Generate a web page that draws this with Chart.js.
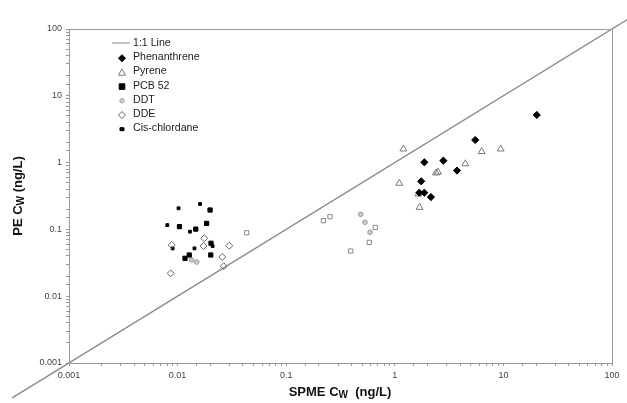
<!DOCTYPE html>
<html>
<head>
<meta charset="utf-8">
<script src="https://cdn.jsdelivr.net/npm/chart.js@4.4.1/dist/chart.umd.min.js"></script>
<style>
  html, body { margin: 0; padding: 0; background: #fff; }
  #wrap { width: 627px; height: 403px; }
</style>
</head>
<body>
<div id="wrap"><canvas id="pe_chart" width="627" height="403"></canvas></div>
<script>
// values (SPME Cw, PE Cw in ng/L)
var phenX = [20.3, 5.5, 1.87, 2.8, 3.74, 1.75, 1.68, 1.87, 2.15];
var phenY = [5.16, 2.18, 1.01, 1.07, 0.76, 0.525, 0.354, 0.354, 0.305];

var pyreneX = [1.2, 6.31, 9.44, 4.46, 2.4, 2.5, 1.1, 1.65, 1.69];
var pyreneY = [1.6, 1.46, 1.6, 0.96, 0.7, 0.72, 0.49, 0.339, 0.214];

var pcbX = [0.0104, 0.0185, 0.0199, 0.0147, 0.0203, 0.0202, 0.0128, 0.0117];
var pcbY = [0.110, 0.123, 0.195, 0.101, 0.062, 0.0414, 0.0414, 0.0369];

var ddtX = [0.485, 0.532, 0.591, 0.0135, 0.0150];
var ddtY = [0.168, 0.128, 0.0905, 0.0348, 0.0325];

var ddeX = [0.00883, 0.0176, 0.0173, 0.0299, 0.0258, 0.0266, 0.00864];
var ddeY = [0.0584, 0.0736, 0.0564, 0.057, 0.0386, 0.0281, 0.022];

var chlordX = [0.0102, 0.0161, 0.00804, 0.0130, 0.0143, 0.0090, 0.021];
var chlordY = [0.207, 0.240, 0.116, 0.0925, 0.052, 0.052, 0.0564];

// open squares in the plot that have no legend entry
var otherX = [0.22, 0.253, 0.393, 0.582, 0.661, 0.0433];
var otherY = [0.135, 0.155, 0.0475, 0.064, 0.107, 0.089];

var lineX = [0.0003, 150];

var decadeTicks = [0.001, 0.01, 0.1, 1, 10, 100];

function pts(xs, ys) {
  var out = [];
  for (var i = 0; i < xs.length; i++) out.push({x: xs[i], y: ys[i]});
  return out;
}

function decadeLabel(v) {
  var l = Math.log10(v);
  var r = Math.round(l);
  if (Math.abs(l - r) > 1e-6) return '';
  if (decadeTicks.indexOf(Math.pow(10, r)) < 0 && r < -3) return '';
  return r >= 0 ? String(Math.round(v)) : v.toFixed(-r);
}

var legendItems = [
  {label: '1:1 Line', line: true},
  {label: 'Phenanthrene', style: 'diamond', fill: '#000', stroke: '#000', r: 3.5},
  {label: 'Pyrene', style: 'triangle', fill: null, stroke: '#777', r: 3.5},
  {label: 'PCB 52', style: 'square', fill: '#000', stroke: '#000', r: 2.8},
  {label: 'DDT', style: 'circle', fill: '#ccc', stroke: '#aaa', r: 2.2},
  {label: 'DDE', style: 'diamond', fill: null, stroke: '#666', r: 3.5},
  {label: 'Cis-chlordane', style: 'small', fill: '#000', stroke: '#000', r: 2}
];

function drawMarker(ctx, it, x, y) {
  ctx.save();
  ctx.beginPath();
  var r = it.r;
  if (it.style == 'diamond') {
    ctx.moveTo(x, y - r); ctx.lineTo(x + r, y); ctx.lineTo(x, y + r); ctx.lineTo(x - r, y); ctx.closePath();
  } else if (it.style == 'triangle') {
    ctx.moveTo(x, y - r); ctx.lineTo(x + r, y + r * 0.8); ctx.lineTo(x - r, y + r * 0.8); ctx.closePath();
  } else if (it.style == 'square') {
    ctx.rect(x - r, y - r, 2 * r, 2 * r);
  } else if (it.style == 'small') {
    ctx.rect(x - 2, y - 1.5, 4, 3);
  } else {
    ctx.arc(x, y, r, 0, Math.PI * 2);
  }
  if (it.fill) { ctx.fillStyle = it.fill; ctx.fill(); }
  ctx.lineWidth = 1;
  ctx.strokeStyle = it.stroke;
  ctx.stroke();
  ctx.restore();
}

var framePlugin = {
  id: 'frame',
  afterDraw: function (chart) {
    var ctx = chart.ctx, a = chart.chartArea;
    ctx.save();
    ctx.strokeStyle = '#9a9a9a';
    ctx.lineWidth = 1;
    ctx.strokeRect(a.left + 0.5, a.top + 0.5, a.right - a.left, a.bottom - a.top);

    // legend
    ctx.font = '10.6px "Liberation Sans", Arial, sans-serif';
    ctx.textBaseline = 'middle';
    ctx.fillStyle = '#222';
    var y0 = 43;
    for (var i = 0; i < legendItems.length; i++) {
      var it = legendItems[i];
      var y = y0 + i * 14.2;
      if (it.line) {
        ctx.beginPath();
        ctx.strokeStyle = '#888';
        ctx.moveTo(112, y); ctx.lineTo(130, y);
        ctx.stroke();
      } else {
        drawMarker(ctx, it, 122, y + 1);
      }
      ctx.fillStyle = '#222';
      ctx.fillText(it.label, 133, y);
    }

    // axis titles with subscript W
    ctx.fillStyle = '#111';
    function subTitle(cx, cy, pre, sub, post) {
      var big = 'bold 13px "Liberation Sans", Arial, sans-serif';
      var small = 'bold 10px "Liberation Sans", Arial, sans-serif';
      ctx.font = big; var w1 = ctx.measureText(pre).width;
      ctx.font = small; var w2 = ctx.measureText(sub).width;
      ctx.font = big; var w3 = ctx.measureText(post).width;
      var x = cx - (w1 + w2 + w3) / 2;
      ctx.textAlign = 'left';
      ctx.textBaseline = 'middle';
      ctx.font = big; ctx.fillText(pre, x, cy);
      ctx.font = small; ctx.fillText(sub, x + w1, cy + 3);
      ctx.font = big; ctx.fillText(post, x + w1 + w2, cy);
    }
    subTitle(340, 392, 'SPME C', 'W', '  (ng/L)');
    ctx.translate(18, 196);
    ctx.rotate(-Math.PI / 2);
    subTitle(0, 0, 'PE C', 'W', ' (ng/L)');
    ctx.restore();
  }
};

var axisTicks = {
  color: '#444',
  font: {family: '"Liberation Sans", Arial, sans-serif', size: 9},
  autoSkip: false,
  maxRotation: 0,
  padding: 4,
  callback: function (v) { return decadeLabel(v); }
};

new Chart(document.getElementById('pe_chart').getContext('2d'), {
  type: 'scatter',
  data: {
    datasets: [
      {
        label: '1:1 Line', type: 'line', data: pts(lineX, lineX),
        borderColor: '#888', borderWidth: 1.3, pointRadius: 0, fill: false, clip: false, order: 10
      },
      {
        label: 'Phenanthrene', data: pts(phenX, phenY), pointStyle: 'rectRot',
        pointRadius: 3.6, backgroundColor: '#000', borderColor: '#000', borderWidth: 1
      },
      {
        label: 'Pyrene', data: pts(pyreneX, pyreneY), pointStyle: 'triangle',
        pointRadius: 4, backgroundColor: 'rgba(255,255,255,0)', borderColor: '#777', borderWidth: 1
      },
      {
        label: 'PCB 52', data: pts(pcbX, pcbY), pointStyle: 'rect',
        pointRadius: 3, backgroundColor: '#000', borderColor: '#000', borderWidth: 1
      },
      {
        label: 'DDT', data: pts(ddtX, ddtY), pointStyle: 'circle',
        pointRadius: 2.3, backgroundColor: '#ccc', borderColor: '#999', borderWidth: 1
      },
      {
        label: 'DDE', data: pts(ddeX, ddeY), pointStyle: 'rectRot',
        pointRadius: 3.5, backgroundColor: 'rgba(255,255,255,0)', borderColor: '#666', borderWidth: 1
      },
      {
        label: 'Cis-chlordane', data: pts(chlordX, chlordY), pointStyle: 'rect',
        pointRadius: 2, backgroundColor: '#000', borderColor: '#000', borderWidth: 1
      },
      {
        label: 'other', data: pts(otherX, otherY), pointStyle: 'rect',
        pointRadius: 3, backgroundColor: 'rgba(255,255,255,0)', borderColor: '#888', borderWidth: 1
      }
    ]
  },
  options: {
    responsive: false,
    animation: false,
    layout: {padding: {top: 29, right: 15, left: 0, bottom: 0}},
    plugins: {legend: {display: false}, tooltip: {enabled: false}},
    scales: {
      x: {
        type: 'logarithmic', min: 0.001, max: 100,
        grid: {display: true, drawOnChartArea: false, drawTicks: true, tickLength: 3, color: '#999'},
        border: {display: false},
        ticks: axisTicks,
        afterFit: function (s) { s.height = 40; }
      },
      y: {
        type: 'logarithmic', min: 0.001, max: 100,
        grid: {display: true, drawOnChartArea: false, drawTicks: true, tickLength: 3, color: '#999'},
        border: {display: false},
        ticks: axisTicks,
        afterFit: function (s) { s.width = 69; }
      }
    }
  },
  plugins: [framePlugin]
});
</script>
</body>
</html>
